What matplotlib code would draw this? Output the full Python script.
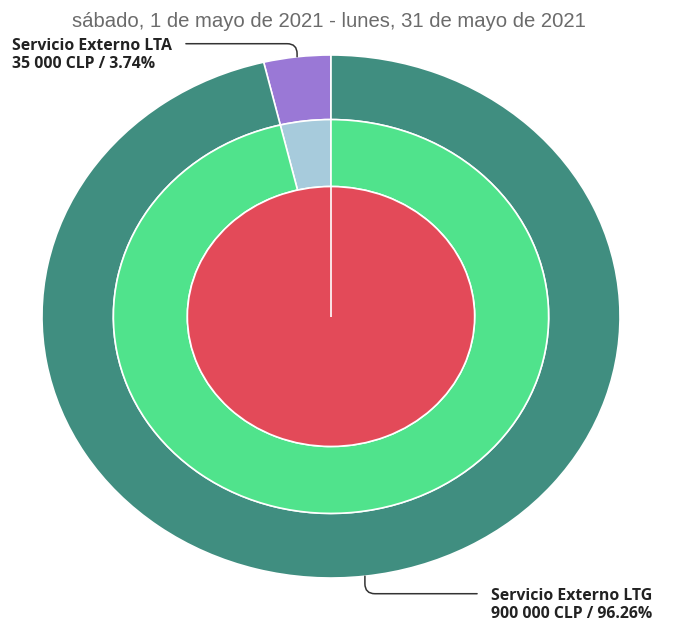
import matplotlib
matplotlib.use("Agg")
import matplotlib.pyplot as plt
import numpy as np

title = "sábado, 1 de mayo de 2021 - lunes, 31 de mayo de 2021"
outer_labels = ["Servicio Externo LTA", "Servicio Externo LTG"]
outer_values = [35000, 900000]
outer_pct = ["3.74%", "96.26%"]
outer_colors = ["#9a78d6", "#408e80"]
middle_values = [35000, 900000]
middle_colors = ["#a7cbdc", "#50e38c"]
inner_values = [935000]
inner_colors = ["#e34a59"]

fig = plt.figure(figsize=(6.75, 6.25), dpi=100)
ax = fig.add_axes([0, 0, 1, 1])

R = 1.0
r_mid = 0.753
r_in = 0.497
start = 90

ax.pie(outer_values, colors=outer_colors, radius=R,
       wedgeprops=dict(width=R - r_mid, edgecolor="white", linewidth=1.2),
       startangle=start, counterclock=True)
ax.pie(middle_values, colors=middle_colors, radius=r_mid,
       wedgeprops=dict(width=r_mid - r_in, edgecolor="white", linewidth=1.2),
       startangle=start, counterclock=True)
ax.pie(inner_values, colors=inner_colors, radius=r_in,
       wedgeprops=dict(edgecolor="white", linewidth=1.2),
       startangle=start, counterclock=True)
# radial edge of the single (100%) inner wedge at its start angle
ths = np.deg2rad(start)
ax.plot([0, r_in * np.cos(ths)], [0, r_in * np.sin(ths)], color="white", lw=1.2,
        solid_capstyle="butt")

ax.set_aspect("auto")
ax.set_xlim(-1.1453, 1.1903)
ax.set_ylim(-1.1797, 1.2103)
ax.axis("off")

fig.text(0.487, 0.966, title, ha="center", va="center", color="#6b6b6b",
         fontsize=14.6, family="Liberation Sans")

total = sum(outer_values)
angles = []
a0 = float(start)
for v in outer_values:
    span = 360.0 * v / total
    angles.append(a0 + span / 2)
    a0 += span

def fmt(v):
    return f"{v:,}".replace(",", " ")

lbl_font = dict(fontsize=11.4, fontweight="bold", family=["Open Sans", "DejaVu Sans"],
                color="#222222", linespacing=1.1)

# top-left label (LTA)
th = np.deg2rad(angles[0])
ax.annotate(f"{outer_labels[0]}\n{fmt(outer_values[0])} CLP / {outer_pct[0]}",
            xy=(R * np.cos(th), R * np.sin(th)), xycoords="data",
            xytext=(12, 625 - 55), textcoords="figure pixels",
            ha="left", va="center", **lbl_font,
            arrowprops=dict(arrowstyle="-", color="#333333", lw=1.1,
                            relpos=(1.0, 0.84), shrinkA=8, shrinkB=0,
                            connectionstyle="angle,angleA=0,angleB=90,rad=10"))

# bottom-right label (LTG)
th = np.deg2rad(angles[1])
ax.annotate(f"{outer_labels[1]}\n{fmt(outer_values[1])} CLP / {outer_pct[1]}",
            xy=(R * np.cos(th), R * np.sin(th)), xycoords="data",
            xytext=(491, 625 - 605), textcoords="figure pixels",
            ha="left", va="center", **lbl_font,
            arrowprops=dict(arrowstyle="-", color="#333333", lw=1.1,
                            relpos=(0.0, 0.84), shrinkA=8, shrinkB=0,
                            connectionstyle="angle,angleA=180,angleB=-90,rad=10"))

fig.savefig("out.png", dpi=100, facecolor="white")
